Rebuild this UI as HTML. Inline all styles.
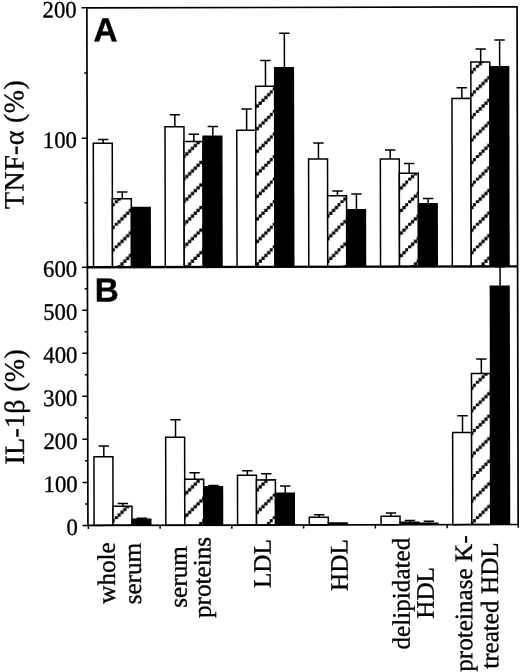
<!DOCTYPE html>
<html><head><meta charset="utf-8"><title>Figure</title>
<style>html,body{margin:0;padding:0;background:#fff}svg{display:block;filter:blur(0.45px)}</style></head>
<body>
<svg width="520" height="672" viewBox="0 0 520 672">
<defs><pattern id="h" patternUnits="userSpaceOnUse" width="22.57" height="22.57" x="1.850" y="0" patternTransform="rotate(0.12 302 266)"><g fill="#000"><rect x="0.000" y="19.749" width="3.271" height="3.271"/><rect x="2.821" y="16.928" width="3.271" height="3.271"/><rect x="5.643" y="14.106" width="3.271" height="3.271"/><rect x="8.464" y="11.285" width="3.271" height="3.271"/><rect x="11.285" y="8.464" width="3.271" height="3.271"/><rect x="14.106" y="5.643" width="3.271" height="3.271"/><rect x="16.928" y="2.821" width="3.271" height="3.271"/><rect x="19.749" y="0.000" width="3.271" height="3.271"/></g></pattern></defs>
<rect width="520" height="672" fill="#fff"/>
<g transform="rotate(-0.12 302 266)">
<path d="M103.42 142.88V139.08M98.22 139.08H108.62" stroke="#000" stroke-width="1.5" fill="none"/>
<rect x="93.55" y="142.88" width="18.95" height="123.92" fill="#fff" stroke="#000" stroke-width="1.5"/>
<path d="M122.38 198.32V191.62M117.17 191.62H127.57" stroke="#000" stroke-width="1.5" fill="none"/>
<rect x="112.50" y="198.32" width="18.95" height="68.48" fill="#fff"/>
<rect x="112.50" y="198.32" width="18.95" height="68.48" fill="url(#h)" stroke="#000" stroke-width="1.5"/>
<rect x="130.85" y="206.36" width="20.15" height="60.44" fill="#000"/>
<path d="M175.18 126.53V114.53M169.97 114.53H180.38" stroke="#000" stroke-width="1.5" fill="none"/>
<rect x="165.30" y="126.53" width="18.95" height="140.27" fill="#fff" stroke="#000" stroke-width="1.5"/>
<path d="M194.12 141.37V134.07M188.92 134.07H199.32" stroke="#000" stroke-width="1.5" fill="none"/>
<rect x="184.25" y="141.37" width="18.95" height="125.43" fill="#fff"/>
<rect x="184.25" y="141.37" width="18.95" height="125.43" fill="url(#h)" stroke="#000" stroke-width="1.5"/>
<path d="M213.08 135.71V126.31M207.88 126.31H218.28" stroke="#000" stroke-width="1.5" fill="none"/>
<rect x="202.60" y="135.21" width="20.15" height="131.59" fill="#000"/>
<path d="M246.93 130.18V108.88M241.72 108.88H252.12" stroke="#000" stroke-width="1.5" fill="none"/>
<rect x="237.05" y="130.18" width="18.95" height="136.62" fill="#fff" stroke="#000" stroke-width="1.5"/>
<path d="M265.88 86.12V60.52M260.68 60.52H271.08" stroke="#000" stroke-width="1.5" fill="none"/>
<rect x="256.00" y="86.12" width="18.95" height="180.68" fill="#fff"/>
<rect x="256.00" y="86.12" width="18.95" height="180.68" fill="url(#h)" stroke="#000" stroke-width="1.5"/>
<path d="M284.82 67.36V33.16M279.62 33.16H290.03" stroke="#000" stroke-width="1.5" fill="none"/>
<rect x="274.35" y="66.86" width="20.15" height="199.94" fill="#000"/>
<path d="M318.68 159.13V143.03M313.48 143.03H323.88" stroke="#000" stroke-width="1.5" fill="none"/>
<rect x="308.80" y="159.13" width="18.95" height="107.67" fill="#fff" stroke="#000" stroke-width="1.5"/>
<path d="M337.62 195.87V191.17M332.43 191.17H342.83" stroke="#000" stroke-width="1.5" fill="none"/>
<rect x="327.75" y="195.87" width="18.95" height="70.93" fill="#fff"/>
<rect x="327.75" y="195.87" width="18.95" height="70.93" fill="url(#h)" stroke="#000" stroke-width="1.5"/>
<path d="M356.57 209.51V194.21M351.38 194.21H361.78" stroke="#000" stroke-width="1.5" fill="none"/>
<rect x="346.10" y="209.01" width="20.15" height="57.79" fill="#000"/>
<path d="M390.43 159.28V150.08M385.23 150.08H395.63" stroke="#000" stroke-width="1.5" fill="none"/>
<rect x="380.55" y="159.28" width="18.95" height="107.52" fill="#fff" stroke="#000" stroke-width="1.5"/>
<path d="M409.38 173.42V163.72M404.18 163.72H414.58" stroke="#000" stroke-width="1.5" fill="none"/>
<rect x="399.50" y="173.42" width="18.95" height="93.38" fill="#fff"/>
<rect x="399.50" y="173.42" width="18.95" height="93.38" fill="url(#h)" stroke="#000" stroke-width="1.5"/>
<path d="M428.32 203.66V198.86M423.12 198.86H433.53" stroke="#000" stroke-width="1.5" fill="none"/>
<rect x="417.85" y="203.16" width="20.15" height="63.64" fill="#000"/>
<path d="M462.18 98.73V88.13M456.98 88.13H467.38" stroke="#000" stroke-width="1.5" fill="none"/>
<rect x="452.30" y="98.73" width="18.95" height="168.07" fill="#fff" stroke="#000" stroke-width="1.5"/>
<path d="M481.12 62.37V49.37M475.93 49.37H486.33" stroke="#000" stroke-width="1.5" fill="none"/>
<rect x="471.25" y="62.37" width="18.95" height="204.43" fill="#fff"/>
<rect x="471.25" y="62.37" width="18.95" height="204.43" fill="url(#h)" stroke="#000" stroke-width="1.5"/>
<path d="M500.07 66.91V40.31M494.88 40.31H505.28" stroke="#000" stroke-width="1.5" fill="none"/>
<rect x="489.60" y="66.41" width="20.15" height="200.39" fill="#000"/>
<path d="M103.42 456.38V445.68M98.22 445.68H108.62" stroke="#000" stroke-width="1.5" fill="none"/>
<rect x="93.55" y="456.38" width="18.95" height="68.57" fill="#fff" stroke="#000" stroke-width="1.5"/>
<path d="M122.38 505.82V503.22M117.17 503.22H127.57" stroke="#000" stroke-width="1.5" fill="none"/>
<rect x="112.50" y="505.82" width="18.95" height="19.13" fill="#fff"/>
<rect x="112.50" y="505.82" width="18.95" height="19.13" fill="url(#h)" stroke="#000" stroke-width="1.5"/>
<path d="M141.32 518.76V517.96M136.12 517.96H146.52" stroke="#000" stroke-width="1.5" fill="none"/>
<rect x="130.85" y="518.26" width="20.15" height="6.69" fill="#000"/>
<path d="M175.18 436.93V419.43M169.97 419.43H180.38" stroke="#000" stroke-width="1.5" fill="none"/>
<rect x="165.30" y="436.93" width="18.95" height="88.02" fill="#fff" stroke="#000" stroke-width="1.5"/>
<path d="M194.12 479.07V472.47M188.92 472.47H199.32" stroke="#000" stroke-width="1.5" fill="none"/>
<rect x="184.25" y="479.07" width="18.95" height="45.88" fill="#fff"/>
<rect x="184.25" y="479.07" width="18.95" height="45.88" fill="url(#h)" stroke="#000" stroke-width="1.5"/>
<path d="M213.08 486.21V485.21M207.88 485.21H218.28" stroke="#000" stroke-width="1.5" fill="none"/>
<rect x="202.60" y="485.71" width="20.15" height="39.24" fill="#000"/>
<path d="M246.93 475.08V470.58M241.72 470.58H252.12" stroke="#000" stroke-width="1.5" fill="none"/>
<rect x="237.05" y="475.08" width="18.95" height="49.87" fill="#fff" stroke="#000" stroke-width="1.5"/>
<path d="M265.88 479.82V473.72M260.68 473.72H271.08" stroke="#000" stroke-width="1.5" fill="none"/>
<rect x="256.00" y="479.82" width="18.95" height="45.13" fill="#fff"/>
<rect x="256.00" y="479.82" width="18.95" height="45.13" fill="url(#h)" stroke="#000" stroke-width="1.5"/>
<path d="M284.82 492.86V485.96M279.62 485.96H290.03" stroke="#000" stroke-width="1.5" fill="none"/>
<rect x="274.35" y="492.36" width="20.15" height="32.59" fill="#000"/>
<path d="M318.68 517.33V514.73M313.48 514.73H323.88" stroke="#000" stroke-width="1.5" fill="none"/>
<rect x="308.80" y="517.33" width="18.95" height="7.62" fill="#fff" stroke="#000" stroke-width="1.5"/>
<rect x="327.15" y="522.37" width="20.15" height="2.58" fill="#000"/>
<rect x="346.10" y="524.51" width="20.15" height="0.44" fill="#000"/>
<path d="M390.43 516.48V513.18M385.23 513.18H395.63" stroke="#000" stroke-width="1.5" fill="none"/>
<rect x="380.55" y="516.48" width="18.95" height="8.47" fill="#fff" stroke="#000" stroke-width="1.5"/>
<path d="M409.38 522.52V520.72M404.18 520.72H414.58" stroke="#000" stroke-width="1.5" fill="none"/>
<rect x="398.90" y="521.82" width="20.15" height="3.13" fill="#000"/>
<path d="M428.32 523.26V521.56M423.12 521.56H433.53" stroke="#000" stroke-width="1.5" fill="none"/>
<rect x="417.85" y="522.76" width="20.15" height="2.19" fill="#000"/>
<path d="M462.18 432.83V416.13M456.98 416.13H467.38" stroke="#000" stroke-width="1.5" fill="none"/>
<rect x="452.30" y="432.83" width="18.95" height="92.12" fill="#fff" stroke="#000" stroke-width="1.5"/>
<path d="M481.12 373.87V359.37M475.93 359.37H486.33" stroke="#000" stroke-width="1.5" fill="none"/>
<rect x="471.25" y="373.87" width="18.95" height="151.08" fill="#fff"/>
<rect x="471.25" y="373.87" width="18.95" height="151.08" fill="url(#h)" stroke="#000" stroke-width="1.5"/>
<path d="M500.07 286.41V267.11M494.88 267.11H505.28" stroke="#000" stroke-width="1.5" fill="none"/>
<rect x="489.60" y="285.91" width="20.15" height="239.04" fill="#000"/>
<g stroke="#000" stroke-width="1.7" fill="none">
<rect x="87.4" y="7.4" width="430.20000000000005" height="517.5500000000001"/>
<path d="M87.4 266.8H517.6" stroke-width="2.4"/>
</g>
<path d="M82.0 7.40H87.4M84.6 72.60H87.4M82.0 137.85H87.4M84.6 202.40H87.4M82.0 266.80H87.4M84.6 288.31H87.4M82.0 309.83H87.4M84.6 331.34H87.4M82.0 352.85H87.4M84.6 374.36H87.4M82.0 395.88H87.4M84.6 417.39H87.4M82.0 438.90H87.4M84.6 460.41H87.4M82.0 481.93H87.4M84.6 503.44H87.4M82.0 524.95H87.4M87.80 524.95V528.55M159.55 524.95V528.55M231.30 524.95V528.55M303.05 524.95V528.55M374.80 524.95V528.55M446.55 524.95V528.55M517.6 524.95V528.15" stroke="#000" stroke-width="1.5" fill="none"/>
<g font-family="'Liberation Serif', serif" fill="#000" stroke="#000" stroke-width="0.35">
<text transform="translate(77.2 16.90) scale(0.965 1)" font-size="23.6" text-anchor="end">200</text>
<text transform="translate(77.2 147.35) scale(0.965 1)" font-size="23.6" text-anchor="end">100</text>
<text transform="translate(77.2 276.30) scale(0.965 1)" font-size="23.6" text-anchor="end">600</text>
<text transform="translate(77.2 319.33) scale(0.965 1)" font-size="23.6" text-anchor="end">500</text>
<text transform="translate(77.2 362.35) scale(0.965 1)" font-size="23.6" text-anchor="end">400</text>
<text transform="translate(77.2 405.38) scale(0.965 1)" font-size="23.6" text-anchor="end">300</text>
<text transform="translate(77.2 448.40) scale(0.965 1)" font-size="23.6" text-anchor="end">200</text>
<text transform="translate(77.2 491.43) scale(0.965 1)" font-size="23.6" text-anchor="end">100</text>
<text transform="translate(77.2 534.45) scale(0.965 1)" font-size="23.6" text-anchor="end">0</text>
<text transform="translate(23.6 143.8) rotate(-90)" font-size="28" text-anchor="middle" letter-spacing="0.35">TNF-α (%)</text>
<text transform="translate(23.6 406.2) rotate(-90)" font-size="28" text-anchor="middle" letter-spacing="0.3">IL-1β (%)</text>
<text transform="translate(114.25 572.6) rotate(-90)" font-size="25.2" text-anchor="middle">whole</text>
<text transform="translate(140.25 573.25) rotate(-90)" font-size="25.2" text-anchor="middle">serum</text>
<text transform="translate(186.0 576.7) rotate(-90)" font-size="25.2" text-anchor="middle">serum</text>
<text transform="translate(209.9 577.2) rotate(-90)" font-size="25.2" text-anchor="middle">proteins</text>
<text transform="translate(270.1 563.5) rotate(-90)" font-size="25.2" text-anchor="middle">LDL</text>
<text transform="translate(347.0 565.2) rotate(-90)" font-size="25.2" text-anchor="middle">HDL</text>
<text transform="translate(408.9 593.8) rotate(-90)" font-size="25.2" text-anchor="middle">delipidated</text>
<text transform="translate(433.0 593.2) rotate(-90)" font-size="25.2" text-anchor="middle">HDL</text>
<text transform="translate(471.4 604.0) rotate(-90)" font-size="25.2" text-anchor="middle">proteinase K-</text>
<text transform="translate(497.4 606.0) rotate(-90)" font-size="25.2" text-anchor="middle">treated HDL</text>
</g>
<g font-family="'Liberation Sans', sans-serif" font-weight="bold" font-size="33.3" fill="#000" stroke="#000" stroke-width="0.35">
<text x="94.0" y="40.9">A</text><text x="94.7" y="301.1">B</text>
</g>
</g>
</svg>
</body></html>
